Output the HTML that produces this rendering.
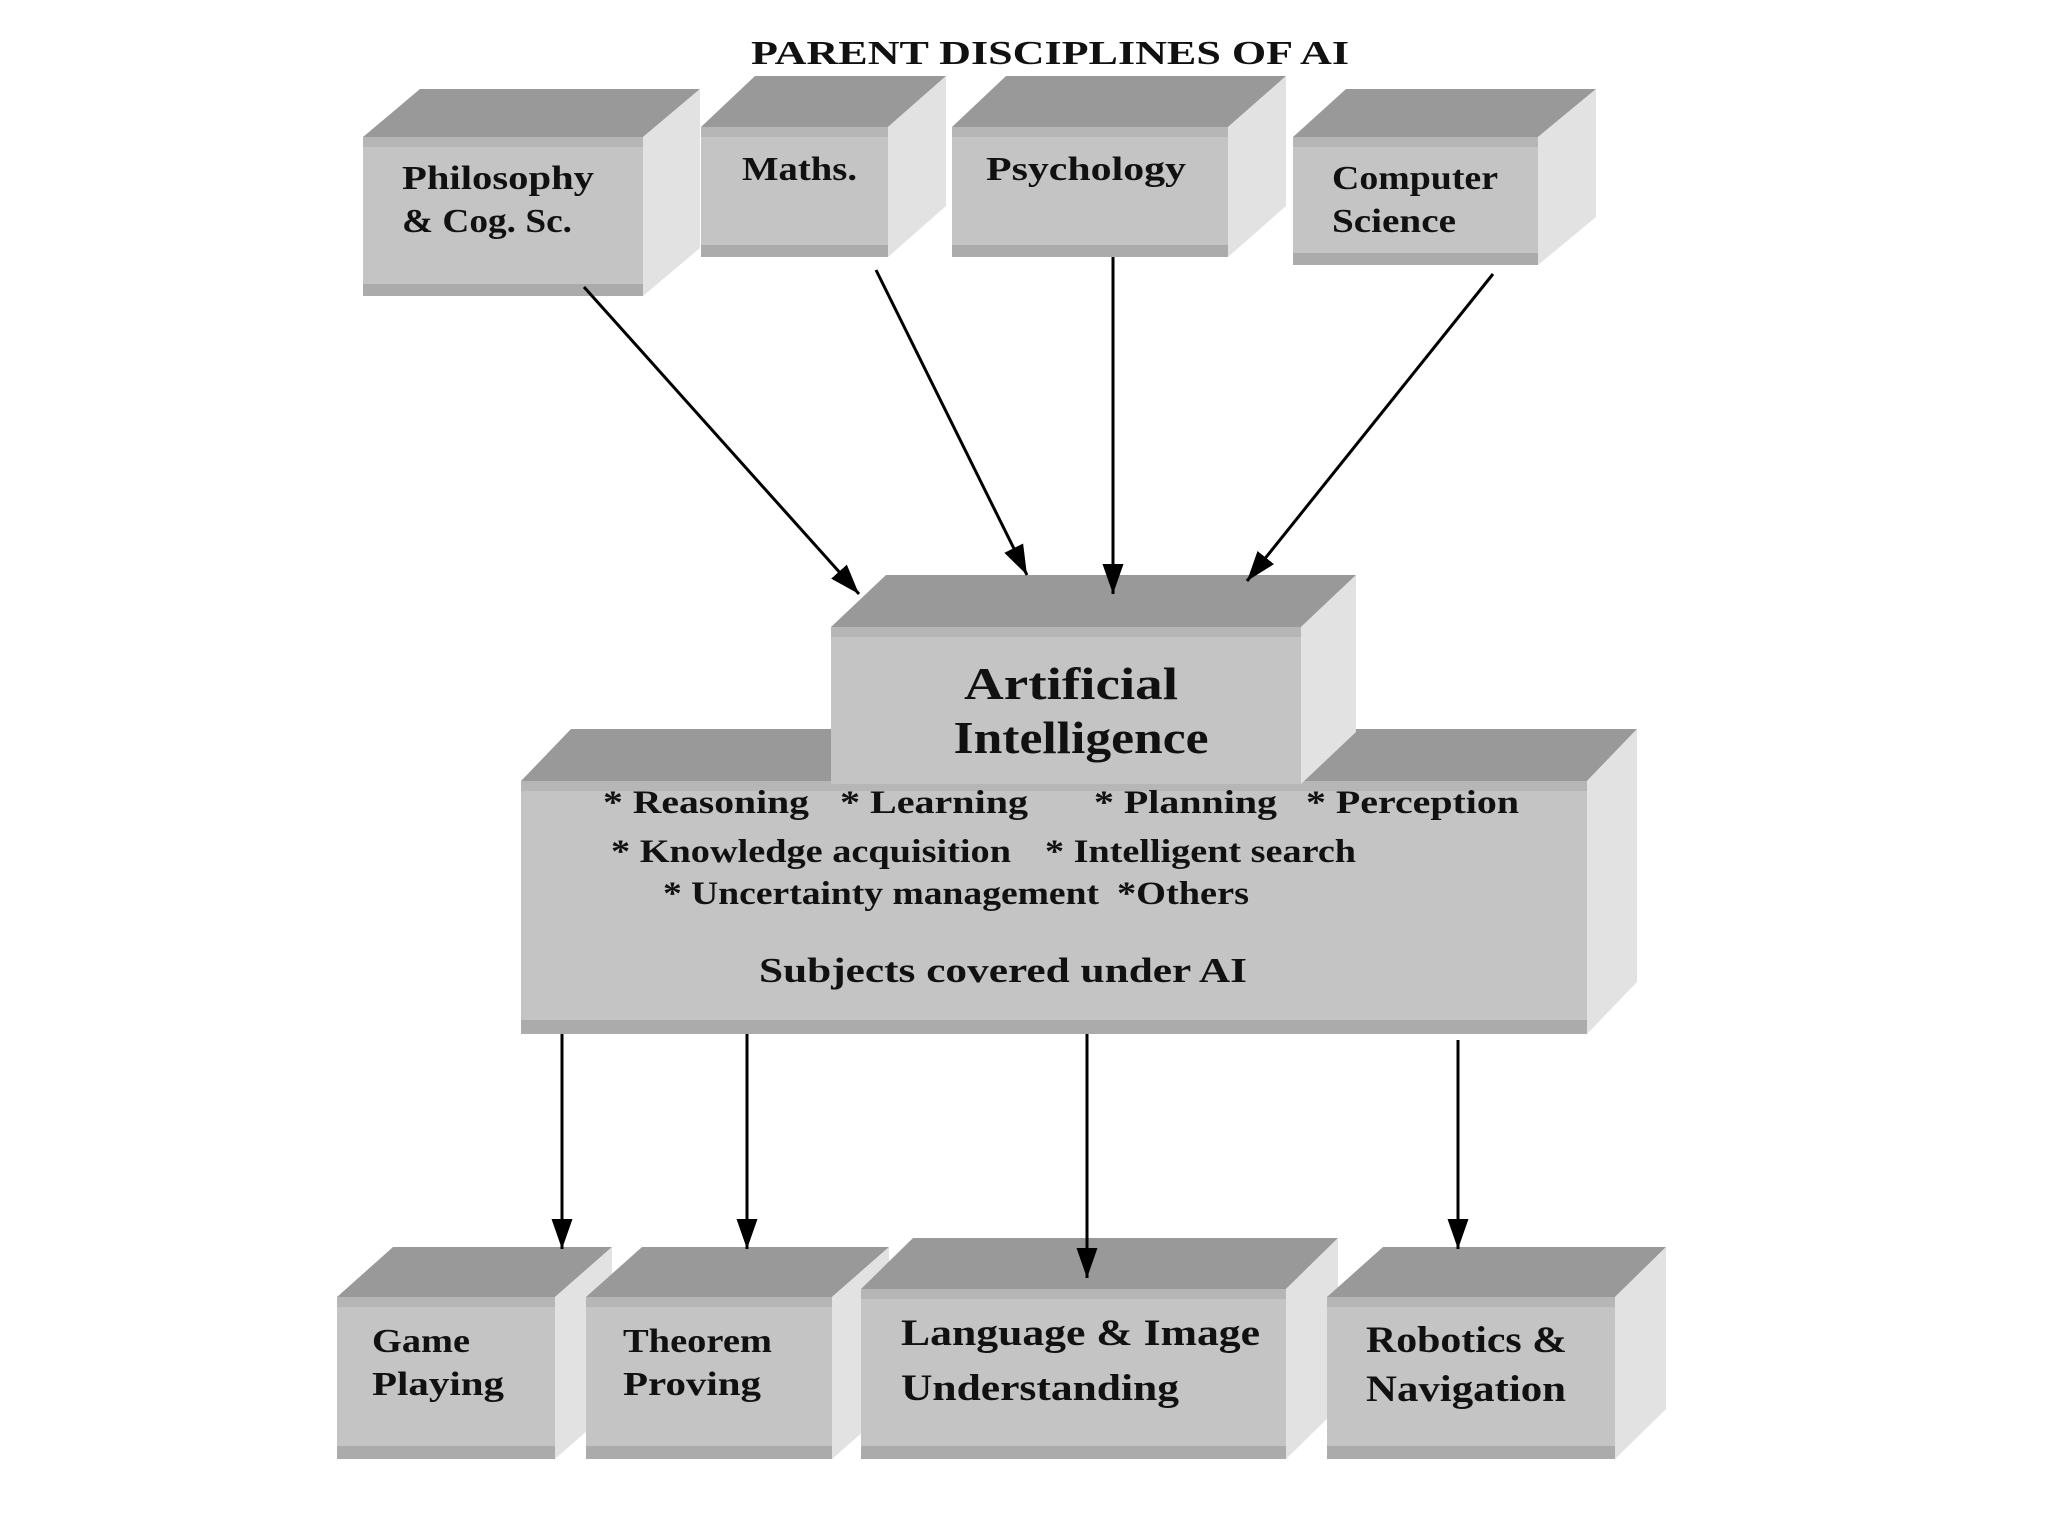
<!DOCTYPE html>
<html><head><meta charset="utf-8"><style>
html,body{margin:0;padding:0;background:#fff;}
svg{display:block;}
text{font-family:"Liberation Serif",serif;font-weight:bold;fill:#111;}
</style></head><body>
<svg width="2048" height="1536" viewBox="0 0 2048 1536" xmlns="http://www.w3.org/2000/svg">
<defs>
<marker id="ah" viewBox="0 0 10 10" refX="10" refY="5" markerWidth="30" markerHeight="30" markerUnits="userSpaceOnUse" orient="auto">
<path d="M0,1.5 L10,5 L0,8.5 z" fill="#000"/>
</marker>
</defs>

<text x="751" y="64" font-size="34" textLength="598" lengthAdjust="spacingAndGlyphs">PARENT DISCIPLINES OF AI</text>

<!-- cube template: front x,y,w,h; dx, dy -->
<!-- Philosophy -->
<g>
<polygon points="363,137 420,89 700,89 643,137" fill="#999"/>
<polygon points="643,137 700,89 700,248 643,296" fill="#e2e2e2"/>
<rect x="363" y="137" width="280" height="159" fill="#c4c4c4"/>
<rect x="363" y="137" width="280" height="10" fill="#b6b6b6"/>
<rect x="363" y="284" width="280" height="12" fill="#ababab"/>
</g>
<!-- Maths -->
<g>
<polygon points="701,127 755,76 946,76 888,127" fill="#999"/>
<polygon points="888,127 946,76 946,206 888,257" fill="#e2e2e2"/>
<rect x="701" y="127" width="187" height="130" fill="#c4c4c4"/>
<rect x="701" y="127" width="187" height="10" fill="#b6b6b6"/>
<rect x="701" y="245" width="187" height="12" fill="#ababab"/>
</g>
<!-- Psychology -->
<g>
<polygon points="952,127 1006,76 1286,76 1228,127" fill="#999"/>
<polygon points="1228,127 1286,76 1286,206 1228,257" fill="#e2e2e2"/>
<rect x="952" y="127" width="276" height="130" fill="#c4c4c4"/>
<rect x="952" y="127" width="276" height="10" fill="#b6b6b6"/>
<rect x="952" y="245" width="276" height="12" fill="#ababab"/>
</g>
<!-- Computer Science -->
<g>
<polygon points="1293,137 1346,89 1596,89 1538,137" fill="#999"/>
<polygon points="1538,137 1596,89 1596,217 1538,265" fill="#e2e2e2"/>
<rect x="1293" y="137" width="245" height="128" fill="#c4c4c4"/>
<rect x="1293" y="137" width="245" height="10" fill="#b6b6b6"/>
<rect x="1293" y="253" width="245" height="12" fill="#ababab"/>
</g>

<text x="402" y="189" font-size="34" textLength="192" lengthAdjust="spacingAndGlyphs">Philosophy</text>
<text x="402" y="232" font-size="34" textLength="170" lengthAdjust="spacingAndGlyphs">&amp; Cog. Sc.</text>
<text x="742" y="180" font-size="34" textLength="115" lengthAdjust="spacingAndGlyphs">Maths.</text>
<text x="986" y="180" font-size="34" textLength="200" lengthAdjust="spacingAndGlyphs">Psychology</text>
<text x="1332" y="189" font-size="34" textLength="166" lengthAdjust="spacingAndGlyphs">Computer</text>
<text x="1332" y="232" font-size="34" textLength="124" lengthAdjust="spacingAndGlyphs">Science</text>

<!-- Subjects box -->
<g>
<polygon points="521,781 571,729 1637,729 1587,781" fill="#999"/>
<polygon points="1587,781 1637,729 1637,982 1587,1034" fill="#e2e2e2"/>
<rect x="521" y="781" width="1066" height="253" fill="#c4c4c4"/>
<rect x="521" y="781" width="1066" height="10" fill="#b6b6b6"/>
<rect x="521" y="1020" width="1066" height="14" fill="#ababab"/>
</g>
<!-- AI box -->
<g>
<polygon points="831,627 886,575 1356,575 1301,627" fill="#999"/>
<polygon points="1301,627 1356,575 1356,732 1301,784" fill="#e2e2e2"/>
<rect x="831" y="627" width="470" height="157" fill="#c4c4c4"/>
<rect x="831" y="627" width="470" height="10" fill="#b6b6b6"/>
</g>

<text x="1071" y="699" font-size="46" text-anchor="middle" textLength="214" lengthAdjust="spacingAndGlyphs">Artificial</text>
<text x="1081" y="753" font-size="46" text-anchor="middle" textLength="255" lengthAdjust="spacingAndGlyphs">Intelligence</text>

<text x="603" y="813" font-size="33" textLength="206" lengthAdjust="spacingAndGlyphs">* Reasoning</text>
<text x="840" y="813" font-size="33" textLength="188" lengthAdjust="spacingAndGlyphs">* Learning</text>
<text x="1094" y="813" font-size="33" textLength="183" lengthAdjust="spacingAndGlyphs">* Planning</text>
<text x="1306" y="813" font-size="33" textLength="213" lengthAdjust="spacingAndGlyphs">* Perception</text>
<text x="611" y="862" font-size="33" textLength="400" lengthAdjust="spacingAndGlyphs">* Knowledge acquisition</text>
<text x="1045" y="862" font-size="33" textLength="311" lengthAdjust="spacingAndGlyphs">* Intelligent search</text>
<text x="663" y="904" font-size="33" textLength="436" lengthAdjust="spacingAndGlyphs">* Uncertainty management</text>
<text x="1117" y="904" font-size="33" textLength="132" lengthAdjust="spacingAndGlyphs">*Others</text>
<text x="759" y="982" font-size="35" textLength="488" lengthAdjust="spacingAndGlyphs">Subjects covered under AI</text>

<!-- bottom boxes -->
<g>
<polygon points="337,1297 393,1247 612,1247 555,1297" fill="#999"/>
<polygon points="555,1297 612,1247 612,1409 555,1459" fill="#e2e2e2"/>
<rect x="337" y="1297" width="218" height="162" fill="#c4c4c4"/>
<rect x="337" y="1297" width="218" height="10" fill="#b6b6b6"/>
<rect x="337" y="1446" width="218" height="13" fill="#ababab"/>
</g>
<g>
<polygon points="586,1297 642,1247 889,1247 832,1297" fill="#999"/>
<polygon points="832,1297 889,1247 889,1409 832,1459" fill="#e2e2e2"/>
<rect x="586" y="1297" width="246" height="162" fill="#c4c4c4"/>
<rect x="586" y="1297" width="246" height="10" fill="#b6b6b6"/>
<rect x="586" y="1446" width="246" height="13" fill="#ababab"/>
</g>
<g>
<polygon points="861,1289 913,1238 1338,1238 1286,1289" fill="#999"/>
<polygon points="1286,1289 1338,1238 1338,1408 1286,1459" fill="#e2e2e2"/>
<rect x="861" y="1289" width="425" height="170" fill="#c4c4c4"/>
<rect x="861" y="1289" width="425" height="10" fill="#b6b6b6"/>
<rect x="861" y="1446" width="425" height="13" fill="#ababab"/>
</g>
<g>
<polygon points="1327,1297 1383,1247 1666,1247 1615,1297" fill="#999"/>
<polygon points="1615,1297 1666,1247 1666,1409 1615,1459" fill="#e2e2e2"/>
<rect x="1327" y="1297" width="288" height="162" fill="#c4c4c4"/>
<rect x="1327" y="1297" width="288" height="10" fill="#b6b6b6"/>
<rect x="1327" y="1446" width="288" height="13" fill="#ababab"/>
</g>

<text x="372" y="1352" font-size="34" textLength="98" lengthAdjust="spacingAndGlyphs">Game</text>
<text x="372" y="1395" font-size="34" textLength="132" lengthAdjust="spacingAndGlyphs">Playing</text>
<text x="623" y="1352" font-size="34" textLength="149" lengthAdjust="spacingAndGlyphs">Theorem</text>
<text x="623" y="1395" font-size="34" textLength="138" lengthAdjust="spacingAndGlyphs">Proving</text>
<text x="901" y="1345" font-size="37" textLength="359" lengthAdjust="spacingAndGlyphs">Language &amp; Image</text>
<text x="901" y="1400" font-size="37" textLength="278" lengthAdjust="spacingAndGlyphs">Understanding</text>
<text x="1366" y="1352" font-size="37" textLength="201" lengthAdjust="spacingAndGlyphs">Robotics &amp;</text>
<text x="1366" y="1401" font-size="37" textLength="200" lengthAdjust="spacingAndGlyphs">Navigation</text>

<!-- arrows -->
<g stroke="#000" stroke-width="3" fill="none">
<line x1="584" y1="287" x2="859" y2="594" marker-end="url(#ah)"/>
<line x1="876" y1="270" x2="1027" y2="575" marker-end="url(#ah)"/>
<line x1="1113" y1="257" x2="1113" y2="594" marker-end="url(#ah)"/>
<line x1="1493" y1="274" x2="1247" y2="581" marker-end="url(#ah)"/>
<line x1="562" y1="1034" x2="562" y2="1249" marker-end="url(#ah)"/>
<line x1="747" y1="1034" x2="747" y2="1249" marker-end="url(#ah)"/>
<line x1="1087" y1="1034" x2="1087" y2="1278" marker-end="url(#ah)"/>
<line x1="1458" y1="1040" x2="1458" y2="1249" marker-end="url(#ah)"/>
</g>
</svg>
</body></html>
